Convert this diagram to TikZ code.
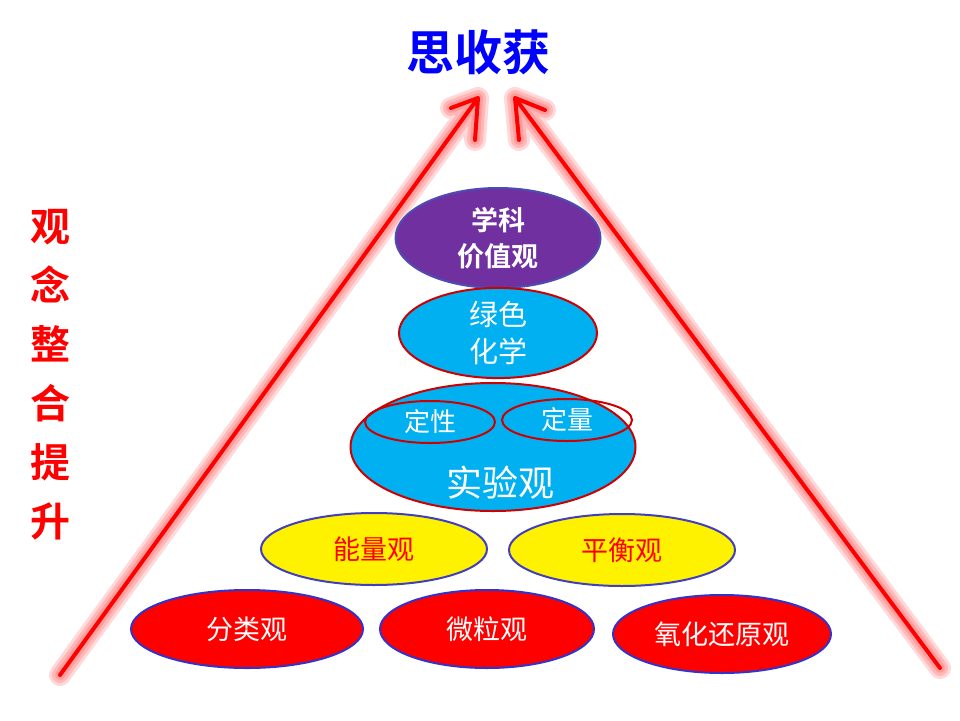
\documentclass[tikz,border=0pt]{standalone}
\usepackage{fontspec}
\newfontfamily\cjk{Noto Sans CJK SC}
\newfontfamily\cjkb{Noto Sans CJK SC Bold}
\usetikzlibrary{arrows.meta,shapes.geometric}
\definecolor{cyanb}{RGB}{0,176,240}
\definecolor{purp}{RGB}{112,48,160}
\definecolor{rd}{RGB}{255,0,0}
\begin{document}
\begin{tikzpicture}[x=1pt,y=-1pt,
  el/.style={ellipse,inner sep=0pt,line width=2pt},
  glow/.style={line width=#1,draw=rd,opacity=0.15,line cap=round,line join=round},
  arr/.style={line width=4pt,draw=rd,line cap=round,line join=round}]
\useasboundingbox (0,0) rectangle (960,720);
\fill[white] (0,0) rectangle (960,720);
\node[text=blue,font=\cjkb\fontsize{48}{48}\selectfont] (t) at (478,52) {思收获};
\node[text=rd,font=\cjkb\fontsize{40}{59}\selectfont,align=center] (s) at (50,375) {观\\念\\整\\合\\提\\升};
\coordinate (l0) at (60,675); \coordinate (l1) at (478,98);
\coordinate (la) at (451,108); \coordinate (lb) at (475,140);
\coordinate (r0) at (940,668); \coordinate (r1) at (515,98);
\coordinate (ra) at (545,110); \coordinate (rb) at (519,140);
\foreach \w in {22pt,16pt,10pt}{
  \draw[glow=\w] (l0) -- (l1) (la) -- (l1) -- (lb);
  \draw[glow=\w] (r0) -- (r1) (ra) -- (r1) -- (rb);}
\draw[arr] (l0) -- (l1) (la) -- (l1) -- (lb);
\draw[arr] (r0) -- (r1) (ra) -- (r1) -- (rb);
\node[el,fill=purp,draw=gray!60!blue,minimum width=205pt,minimum height=100pt,text=white,font=\cjkb\fontsize{27}{36}\selectfont,align=center] (a) at (498,238) {学科\\价值观};
\node[el,fill=cyanb,draw=rd!80!black,minimum width=198pt,minimum height=82pt,text=white,font=\cjk\fontsize{29}{37}\selectfont,align=center] (b) at (498,333) {绿色\\化学};
\node[el,fill=cyanb,draw=rd!80!black,minimum width=285pt,minimum height=128pt] (c) at (493,447) {};
\node[el,draw=rd!80!black,minimum width=130pt,minimum height=42pt,text=white,font=\cjk\fontsize{26}{26}\selectfont] (c1) at (430,422) {定性};
\node[el,draw=rd!80!black,minimum width=130pt,minimum height=42pt,text=white,font=\cjk\fontsize{26}{26}\selectfont] (c2) at (567,420) {定量};
\node[text=white,font=\cjk\fontsize{36}{36}\selectfont] (c3) at (500,483) {实验观};
\node[el,fill=yellow,draw=gray!50!blue,minimum width=226pt,minimum height=72pt,text=rd,font=\cjk\fontsize{27}{27}\selectfont] (d1) at (374,549) {能量观};
\node[el,fill=yellow,draw=gray!50!blue,minimum width=226pt,minimum height=72pt,text=rd,font=\cjk\fontsize{27}{27}\selectfont] (d2) at (622,550) {平衡观};
\node[el,fill=rd,draw=gray!40!blue,minimum width=232pt,minimum height=78pt,text=white,font=\cjk\fontsize{27}{27}\selectfont] (e1) at (247,629) {分类观};
\node[el,fill=rd,draw=gray!40!blue,minimum width=214pt,minimum height=78pt,text=white,font=\cjk\fontsize{27}{27}\selectfont] (e2) at (487,629) {微粒观};
\node[el,fill=rd,draw=gray!40!blue,minimum width=218pt,minimum height=78pt,text=white,font=\cjk\fontsize{27}{27}\selectfont] (e3) at (722,634) {氧化还原观};
\end{tikzpicture}
\end{document}
